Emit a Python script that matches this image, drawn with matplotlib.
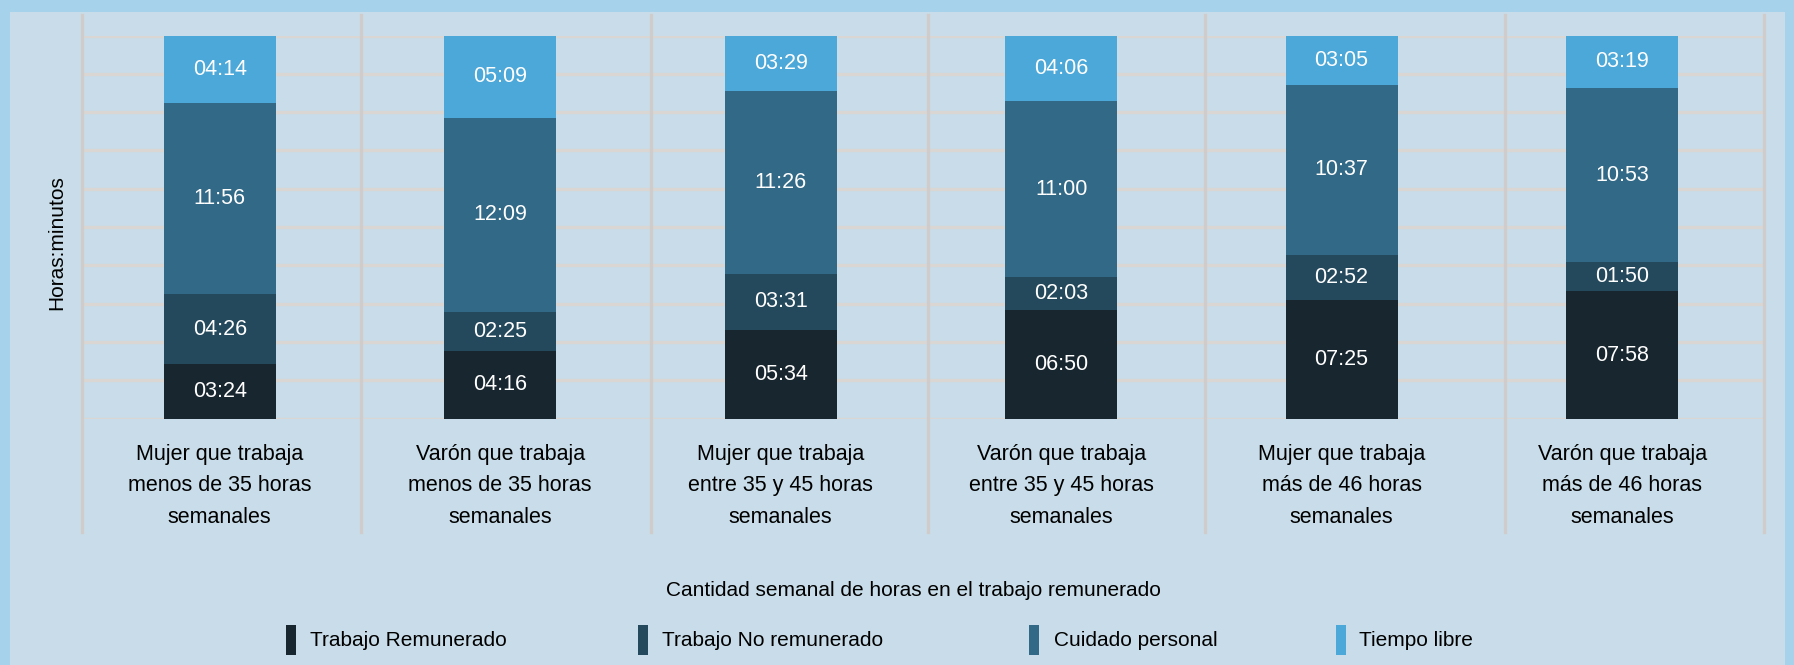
import matplotlib.pyplot as plt
from matplotlib.patches import Rectangle
from matplotlib.transforms import blended_transform_factory

plt.rcParams['font.family'] = ['Liberation Sans', 'DejaVu Sans']

categorias = [
    "Mujer que trabaja\nmenos de 35 horas\nsemanales",
    "Varón que trabaja\nmenos de 35 horas\nsemanales",
    "Mujer que trabaja\nentre 35 y 45 horas\nsemanales",
    "Varón que trabaja\nentre 35 y 45 horas\nsemanales",
    "Mujer que trabaja\nmás de 46 horas\nsemanales",
    "Varón que trabaja\nmás de 46 horas\nsemanales",
]
series = ["Trabajo Remunerado", "Trabajo No remunerado", "Cuidado personal", "Tiempo libre"]
trabajo_remunerado = ["03:24", "04:16", "05:34", "06:50", "07:25", "07:58"]
trabajo_no_remunerado = ["04:26", "02:25", "03:31", "02:03", "02:52", "01:50"]
cuidado_personal = ["11:56", "12:09", "11:26", "11:00", "10:37", "10:53"]
tiempo_libre = ["04:14", "05:09", "03:29", "04:06", "03:05", "03:19"]

colores = ["#182630", "#24485c", "#326986", "#4ca8d8"]
W, H = 1794, 665


def a_minutos(t):
    h, m = t.split(":")
    return int(h) * 60 + int(m)


fig = plt.figure(figsize=(W / 100, H / 100), dpi=100)
fig.patch.set_facecolor("#a6d3eb")
fig.patches.append(Rectangle((10 / W, 0), 1775 / W, 653 / H, transform=fig.transFigure,
                             facecolor="#c8dde9", edgecolor="none", zorder=-10))

ax = fig.add_axes([82 / W, 246.3 / H, 1682 / W, 383.2 / H])
ax.set_facecolor("none")

x = list(range(len(categorias)))
base = [0] * len(categorias)
for nombre, valores, color in zip(series, [trabajo_remunerado, trabajo_no_remunerado,
                                           cuidado_personal, tiempo_libre], colores):
    mins = [a_minutos(v) for v in valores]
    ax.bar(x, mins, bottom=base, width=0.4, color=color, label=nombre, zorder=3)
    for i, (m, b, txt) in enumerate(zip(mins, base, valores)):
        ax.text(i, b + m / 2, txt, ha="center", va="center", color="white", fontsize=15.5, zorder=4)
    base = [b + m for b, m in zip(base, mins)]

ax.set_xlim(-0.491, 5.506)
ax.set_ylim(0, 1440)
ax.set_yticks(range(0, 1441, 144))
ax.set_xticks([])
ax.tick_params(axis="y", length=0, labelleft=False)
ax.yaxis.grid(True, color="#d9d6d3", linewidth=2.4)
ax.set_axisbelow(True)
for s in ax.spines.values():
    s.set_visible(False)

# separadores verticales entre categorias
trans = blended_transform_factory(ax.transData, ax.transAxes)
for sx in [-0.491, 0.505, 1.538, 2.525, 3.513, 4.583, 5.506]:
    ax.plot([sx, sx], [-0.296, 1.053], transform=trans, color="#cfcccb",
            linewidth=2.4, clip_on=False, zorder=1)

for i, cat in enumerate(categorias):
    ax.text(i, -0.1756, cat, transform=trans, ha="center", va="center",
            fontsize=15.5, linespacing=1.68, color="black")

fig.text(57 / W, 1 - 242.5 / H, "Horas:minutos", rotation=90, ha="center", va="center", fontsize=15)
fig.text(913 / W, 1 - 590 / H, "Cantidad semanal de horas en el trabajo remunerado",
         ha="center", va="center", fontsize=15)

# leyenda manual
leg_marker_x = [286, 638, 1029, 1336]
leg_text_x = [310, 662, 1054, 1359]
for nombre, color, mx, tx in zip(series, colores, leg_marker_x, leg_text_x):
    fig.patches.append(Rectangle((mx / W, 1 - 655 / H), 10 / W, 30 / H, transform=fig.transFigure,
                                 facecolor=color, edgecolor="none"))
    fig.text(tx / W, 1 - 641 / H, nombre, ha="left", va="center", fontsize=15)

fig.savefig("out.png", dpi=100, facecolor=fig.get_facecolor())
